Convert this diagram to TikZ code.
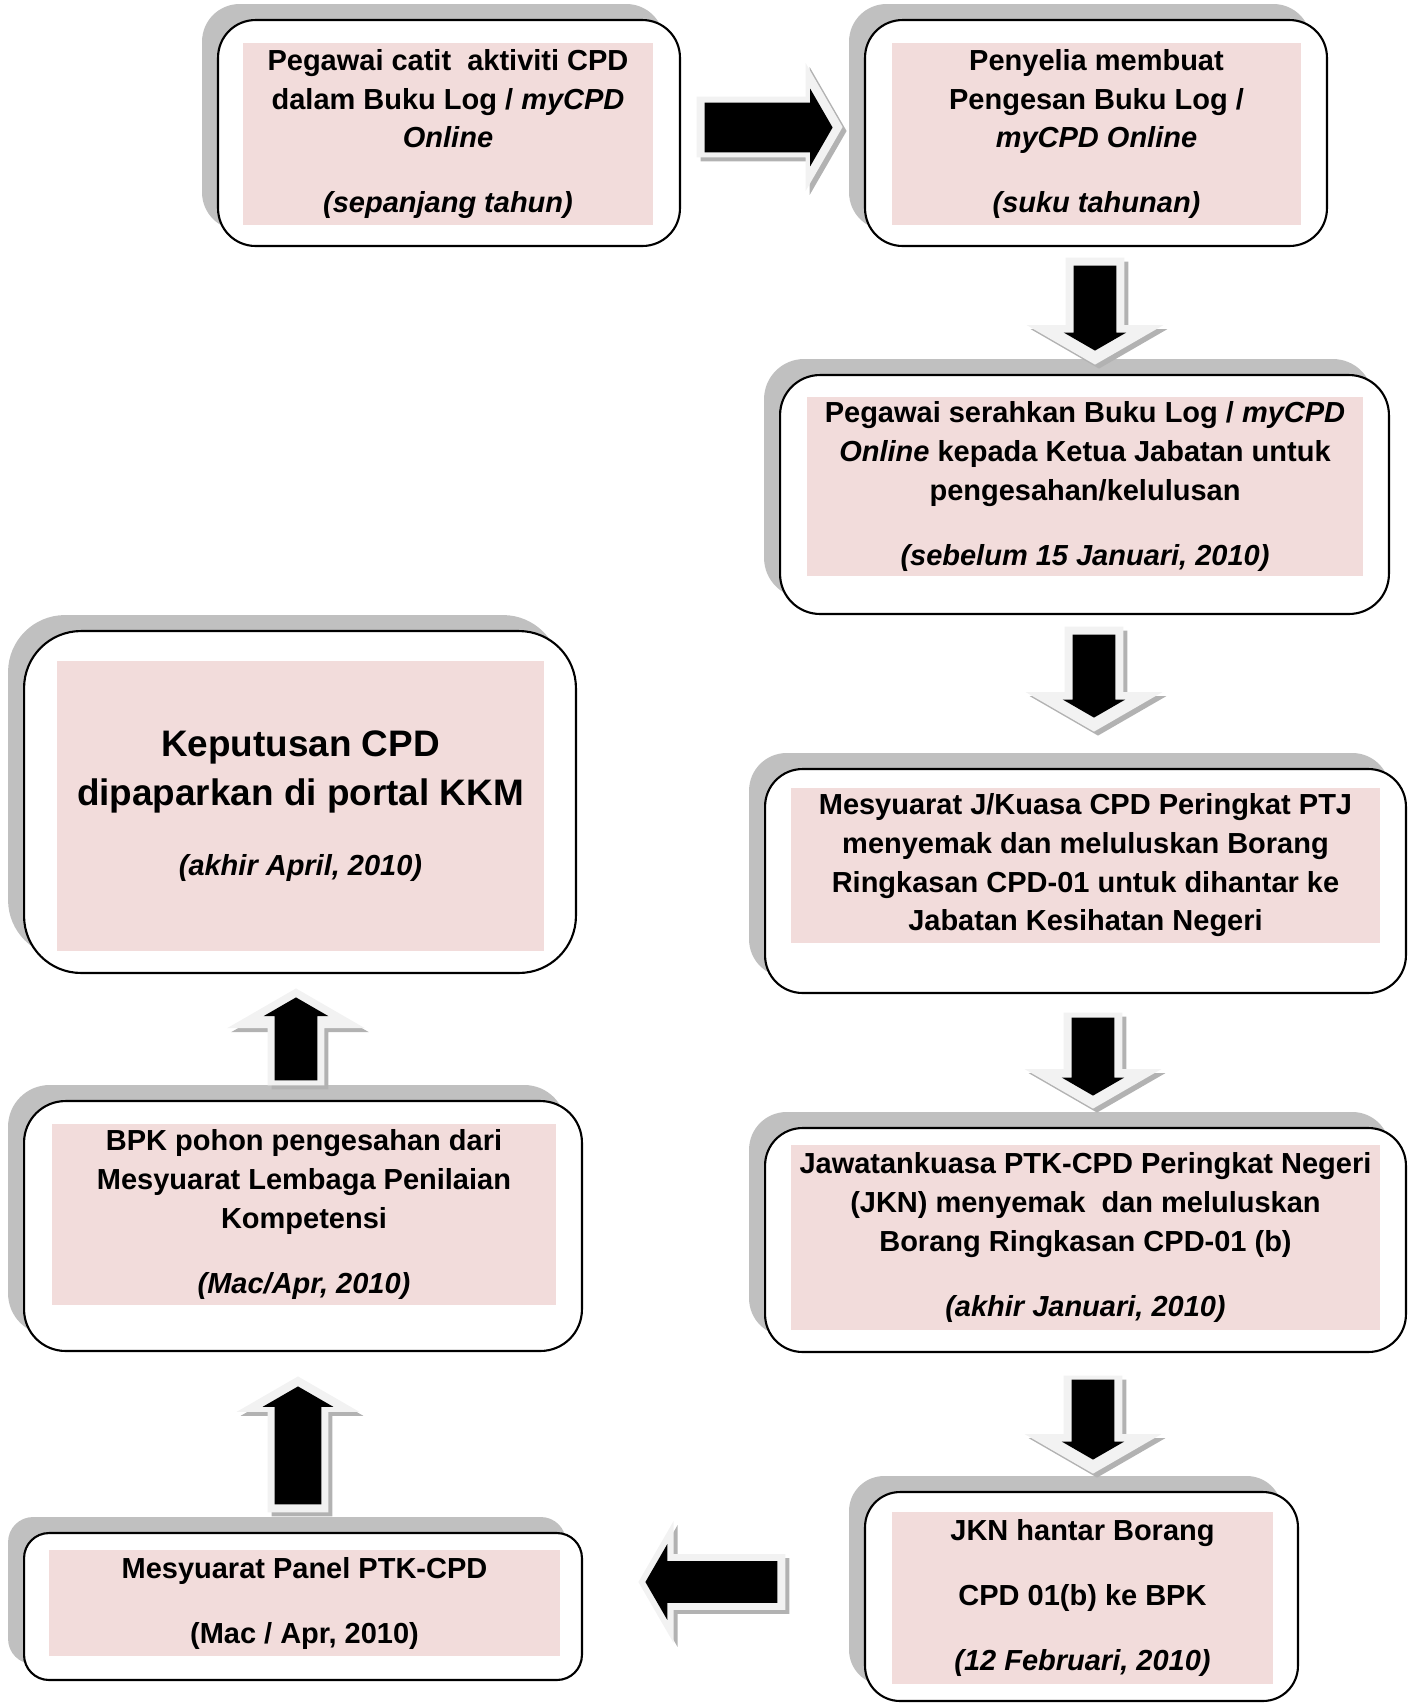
\documentclass[tikz,border=0pt]{standalone}
\usepackage{fontspec}
\setmainfont{Liberation Sans}
\usepackage{xcolor}
\usepackage{tikz}
\usetikzlibrary{shapes.arrows,shadows}

\definecolor{notepink}{RGB}{242,220,219}
\definecolor{shadegray}{RGB}{192,192,192}
\definecolor{rimgray}{RGB}{242,242,242}
\definecolor{dropgray}{RGB}{178,178,178}

\begin{document}
\begin{tikzpicture}[x=0.02cm,y=-0.02cm,
    stage/.style={draw,line width=1.2pt,fill=white,rounded corners=0.75cm,
        drop shadow={shadow xshift=-0.32cm,shadow yshift=0.32cm,fill=shadegray,opacity=1}},
    note/.style={fill=notepink,inner sep=0pt,align=center,
        font=\fontsize{16.5}{22}\selectfont\bfseries},
    rim/.style={single arrow,fill=rimgray,inner xsep=0pt,single arrow tip angle=120,
        drop shadow={shadow xshift=0.08cm,shadow yshift=-0.08cm,fill=dropgray,opacity=1}},
    core/.style={single arrow,fill=black,inner xsep=0pt,single arrow tip angle=120}]
    \useasboundingbox (0,0) rectangle (1416,1705);

    \node[stage,minimum width=9.24cm,minimum height=4.52cm] (b1) at (449,133) {};
    \node[stage,minimum width=9.24cm,minimum height=4.52cm] (b2) at (1096,133) {};
    \node[stage,minimum width=12.18cm,minimum height=4.78cm,rounded corners=0.8cm] (b3) at (1084.5,494.5) {};
    \node[stage,minimum width=12.82cm,minimum height=4.48cm] (b4) at (1085.5,881) {};
    \node[stage,minimum width=12.82cm,minimum height=4.48cm] (b5) at (1085.5,1240) {};
    \node[stage,minimum width=8.66cm,minimum height=4.18cm,rounded corners=0.7cm] (b6) at (1081.5,1596.5) {};
    \node[stage,minimum width=11.16cm,minimum height=2.94cm,rounded corners=0.5cm] (b7) at (303,1606.5) {};
    \node[stage,minimum width=11.16cm,minimum height=5cm,rounded corners=0.83cm] (b8) at (303,1226) {};
    \node[stage,minimum width=11.04cm,minimum height=6.84cm,rounded corners=1.14cm] (b9) at (300,802) {};

    \node[note,minimum width=8.2cm,minimum height=3.64cm] (t1) at (448,134)
        {Pegawai catit~ aktiviti CPD\\dalam Buku Log / \textit{myCPD}\\\textit{Online}\\[15pt]\textit{(sepanjang tahun)}};
    \node[note,minimum width=8.18cm,minimum height=3.64cm] (t2) at (1096.5,134)
        {Penyelia membuat\\Pengesan Buku Log /\\\textit{myCPD Online}\\[15pt]\textit{(suku tahunan)}};
    \node[note,minimum width=11.12cm,minimum height=3.58cm] (t3) at (1085,486.5)
        {Pegawai serahkan Buku Log / \textit{myCPD}\\\textit{Online} kepada Ketua Jabatan untuk\\pengesahan/kelulusan\\[15pt]\textit{(sebelum 15 Januari, 2010)}};
    \node[note,minimum width=11.78cm,minimum height=3.1cm] (t4) at (1085.5,865.5)
        {Mesyuarat J/Kuasa CPD Peringkat PTJ\\menyemak dan meluluskan Borang\\Ringkasan CPD-01 untuk dihantar ke\\Jabatan Kesihatan Negeri};
    \node[note,minimum width=11.78cm,minimum height=3.7cm] (t5) at (1085.5,1237.5)
        {Jawatankuasa PTK-CPD Peringkat Negeri\\(JKN) menyemak~ dan meluluskan\\Borang Ringkasan CPD-01 (b)\\[15pt]\textit{(akhir Januari, 2010)}};
    \node[note,minimum width=7.62cm,minimum height=3.44cm] (t6) at (1082.5,1598)
        {JKN hantar Borang\\[15pt]CPD 01(b) ke BPK\\[15pt]\textit{(12 Februari, 2010)}};
    \node[note,minimum width=10.22cm,minimum height=2.12cm] (t7) at (304.5,1603)
        {Mesyuarat Panel PTK-CPD\\[15pt](Mac / Apr, 2010)};
    \node[note,minimum width=10.08cm,minimum height=3.62cm] (t8) at (304,1214.5)
        {BPK pohon pengesahan dari\\Mesyuarat Lembaga Penilaian\\Kompetensi\\[15pt]\textit{(Mac/Apr, 2010)}};
    \node[note,minimum width=9.74cm,minimum height=5.82cm,font=\fontsize{21}{28}\selectfont\bfseries] (t9) at (300.5,806)
        {Keputusan CPD\\dipaparkan di portal KKM\\[12pt]{\fontsize{16.5}{22}\selectfont\itshape (akhir April, 2010)}};

    \node[rim,anchor=tip,inner ysep=0.6cm,minimum height=2.92cm,minimum width=2.54cm,single arrow head extend=0.67cm] (a12) at (843,127) {};
    \node[core,anchor=tip,inner ysep=0.49cm,minimum height=2.56cm,minimum width=1.54cm,single arrow head extend=0.28cm] (a12b) at (833,127.5) {};
    \node[rim,rotate=-90,anchor=tip,inner ysep=0.58cm,minimum height=2.14cm,minimum width=2.72cm,single arrow head extend=0.78cm] (a23) at (1095,365) {};
    \node[core,rotate=-90,anchor=tip,inner ysep=0.42cm,minimum height=1.7cm,minimum width=1.24cm,single arrow head extend=0.2cm] (a23b) at (1095,351) {};
    \node[rim,rotate=-90,anchor=tip,inner ysep=0.58cm,minimum height=2.1cm,minimum width=2.72cm,single arrow head extend=0.78cm] (a34) at (1094,732) {};
    \node[core,rotate=-90,anchor=tip,inner ysep=0.42cm,minimum height=1.66cm,minimum width=1.24cm,single arrow head extend=0.2cm] (a34b) at (1094,718) {};
    \node[rim,rotate=-90,anchor=tip,inner ysep=0.58cm,minimum height=1.92cm,minimum width=2.72cm,single arrow head extend=0.78cm] (a45) at (1093,1109) {};
    \node[core,rotate=-90,anchor=tip,inner ysep=0.42cm,minimum height=1.56cm,minimum width=1.24cm,single arrow head extend=0.2cm] (a45b) at (1093,1096) {};
    \node[rim,rotate=-90,anchor=tip,inner ysep=0.58cm,minimum height=1.96cm,minimum width=2.72cm,single arrow head extend=0.78cm] (a56) at (1093,1474) {};
    \node[core,rotate=-90,anchor=tip,inner ysep=0.42cm,minimum height=1.6cm,minimum width=1.24cm,single arrow head extend=0.2cm] (a56b) at (1093,1460) {};
    \node[rim,rotate=180,anchor=tip,inner ysep=0.55cm,minimum height=2.94cm,minimum width=2.42cm,single arrow head extend=0.66cm] (a67) at (638,1582) {};
    \node[core,rotate=180,anchor=tip,inner ysep=0.41cm,minimum height=2.64cm,minimum width=1.5cm,single arrow head extend=0.34cm] (a67b) at (645,1582) {};
    \node[rim,rotate=90,anchor=tip,inner ysep=0.6cm,minimum height=2.72cm,minimum width=2.44cm,single arrow head extend=0.62cm] (a78) at (298,1376) {};
    \node[core,rotate=90,anchor=tip,inner ysep=0.46cm,minimum height=2.36cm,minimum width=1.4cm,single arrow head extend=0.24cm] (a78b) at (298,1386) {};
    \node[rim,rotate=90,anchor=tip,inner ysep=0.56cm,minimum height=1.94cm,minimum width=2.74cm,single arrow head extend=0.81cm] (a89) at (296,988) {};
    \node[core,rotate=90,anchor=tip,inner ysep=0.42cm,minimum height=1.66cm,minimum width=1.28cm,single arrow head extend=0.22cm] (a89b) at (296,997) {};
\end{tikzpicture}
\end{document}
